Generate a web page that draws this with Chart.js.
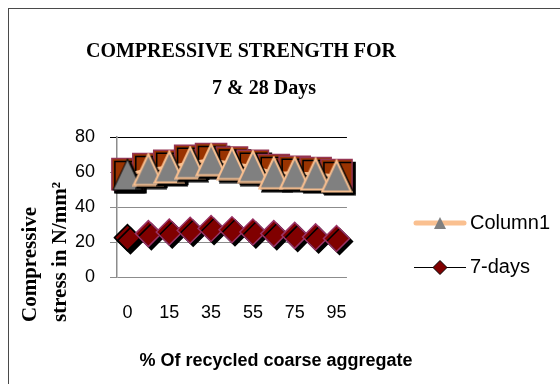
<!DOCTYPE html>
<html>
<head>
<meta charset="utf-8">
<script src="https://cdn.jsdelivr.net/npm/chart.js@4"></script>
<style>
  html, body { margin: 0; padding: 0; background: #fff; }
  #wrap { position: relative; width: 560px; height: 384px; overflow: hidden; }
  #frame { position: absolute; left: 8px; top: 8px; width: 600px; height: 400px;
    border-left: 1.5px solid #4a4a4a; border-top: 1.5px solid #4a4a4a; }
  #chart { position: absolute; left: 0; top: 0; }
</style>
</head>
<body>
<div id="wrap">
  <div id="frame"></div>
  <canvas id="chart" width="560" height="384"></canvas>
</div>
<script>
  // categories (% of recycled coarse aggregate)
  const categories = ['0', '5', '15', '25', '35', '45', '55', '65', '75', '85', '95'];
  // values (N/mm2)
  const column1 = [58.6, 61.4, 62.9, 65.3, 67.0, 64.8, 63.1, 59.5, 59.5, 58.8, 57.7];
  const days28 = [58.8, 61.7, 63.5, 66.4, 67.4, 65.4, 63.5, 61.1, 60.1, 59.4, 58.2];
  const days7 = [22.5, 24.8, 25.7, 26.7, 27.7, 27.0, 25.7, 24.8, 23.8, 22.9, 22.0];
  const yTicks = [0, 20, 40, 60, 80];

  const SERIF = '"Liberation Serif", "Times New Roman", serif';
  const SANS = '"Liberation Sans", Arial, sans-serif';

  function triangleImg (stroke, lw) {
    const c = document.createElement('canvas');
    c.width = 32; c.height = 34;
    const g = c.getContext('2d');
    g.beginPath();
    g.moveTo(16, 1.5);
    g.lineTo(30.5, 32.5);
    g.lineTo(1.5, 32.5);
    g.closePath();
    g.fillStyle = '#808080';
    g.fill();
    g.lineWidth = lw;
    g.strokeStyle = stroke;
    g.stroke();
    return c;
  }
  const triPeach = triangleImg('#fac090', 2);
  const triBlack = triangleImg('#000000', 1);

  function legendIcon (kind) {
    const c = document.createElement('canvas');
    c.width = 54; c.height = 18;
    const g = c.getContext('2d');
    if (kind === 'tri') {
      g.strokeStyle = '#fac090';
      g.lineWidth = 5;
      g.lineCap = 'round';
      g.beginPath(); g.moveTo(3, 9); g.lineTo(51, 9); g.stroke();
      g.fillStyle = '#808080';
      g.beginPath(); g.moveTo(27, 3); g.lineTo(33, 15); g.lineTo(21, 15); g.closePath(); g.fill();
    } else {
      g.strokeStyle = '#000';
      g.lineWidth = 1;
      g.beginPath(); g.moveTo(1, 9.5); g.lineTo(53, 9.5); g.stroke();
      g.fillStyle = '#800000';
      g.beginPath(); g.moveTo(27, 2.5); g.lineTo(34, 9.5); g.lineTo(27, 16.5); g.lineTo(20, 9.5); g.closePath();
      g.fill(); g.stroke();
    }
    return c;
  }
  const legendIcons = { 'Column1': legendIcon('tri'), '7-days': legendIcon('dia') };

  // black drop shadow under every marker, like the original
  const markerShadow = {
    id: 'markerShadow',
    beforeDatasetDraw (chart) {
      const c = chart.ctx;
      c.save();
      c.shadowColor = '#000';
      c.shadowOffsetX = 3;
      c.shadowOffsetY = 3;
      c.shadowBlur = 0;
    },
    afterDatasetDraw (chart) {
      chart.ctx.restore();
    }
  };

  // titles placed as in the source layout
  const texts = {
    id: 'texts',
    afterDraw (chart) {
      const c = chart.ctx;
      c.save();
      c.fillStyle = '#000';
      c.textBaseline = 'middle';
      c.textAlign = 'center';
      c.font = 'bold 20px ' + SERIF;
      c.fillText('COMPRESSIVE STRENGTH FOR', 241, 52);
      c.fillText('7 & 28 Days', 264, 89);
      c.font = 'bold 18px ' + SANS;
      c.fillText('% Of recycled coarse aggregate', 276, 361);
      c.translate(31, 322);
      c.rotate(-Math.PI / 2);
      c.textAlign = 'left';
      c.font = 'bold 21px ' + SERIF;
      c.fillText('Compressive', 0, 0);
      c.fillText('stress in N/mm\u00b2', 0, 30);
      c.restore();
    }
  };

  new Chart(document.getElementById('chart'), {
    type: 'line',
    data: {
      labels: categories,
      datasets: [
        {
          label: 'Column1',
          data: column1,
          order: 1,
          borderColor: '#fac090',
          borderWidth: 3,
          pointStyle: (ctx) => (ctx.dataIndex === 0 ? triBlack : triPeach),
          pointRadius: 16,
          clip: false
        },
        {
          label: '7-days',
          data: days7,
          order: 2,
          borderColor: '#000',
          borderWidth: 1,
          pointStyle: 'rectRot',
          pointRadius: 13,
          pointBackgroundColor: '#800000',
          pointBorderColor: (ctx) => (ctx.dataIndex === 0 ? '#000' : '#993366'),
          pointBorderWidth: 1.5,
          clip: false
        },
        {
          label: '28-days',
          data: days28,
          order: 3,
          borderColor: '#953553',
          borderWidth: 1,
          pointStyle: 'rect',
          pointRadius: 22,
          pointBackgroundColor: '#993300',
          pointBorderColor: '#953553',
          pointBorderWidth: 1.5,
          clip: false
        }
      ]
    },
    options: {
      responsive: false,
      animation: false,
      devicePixelRatio: 1,
      layout: { padding: { left: 0, top: 106, right: 0, bottom: 0 } },
      scales: {
        x: {
          offset: true,
          grid: { display: false, drawTicks: false },
          border: { display: false },
          ticks: {
            autoSkip: false,
            maxRotation: 0,
            padding: 25,
            color: '#000',
            font: { family: SANS, size: 18 },
            callback: (v, i) => (i % 2 === 0 ? categories[i] : '')
          },
          afterFit (s) { s.height = 107; }
        },
        y: {
          min: yTicks[0],
          max: yTicks[yTicks.length - 1],
          afterBuildTicks (s) { s.ticks = yTicks.map(v => ({ value: v })); },
          grid: {
            color: (ctx) => (ctx.tick && ctx.tick.value === 80 ? '#000' : '#8c8c8c'),
            tickLength: 7,
            lineWidth: 1
          },
          border: { color: '#8c8c8c', width: 1.5 },
          ticks: { padding: 15, color: '#000', font: { family: SANS, size: 18 } },
          afterFit (s) { s.width = 117; }
        },
        gap: {
          axis: 'y',
          position: 'right',
          display: true,
          grid: { display: false, drawTicks: false },
          border: { display: false },
          ticks: { display: false },
          afterFit (s) { s.width = 49; }
        }
      },
      plugins: {
        // empty title only reserves the band above the plot
        title: { display: true, text: ' ', font: { size: 10 }, padding: { top: 0, bottom: 19 } },
        tooltip: { enabled: false },
        legend: {
          position: 'right',
          align: 'center',
          maxWidth: 170,
          labels: {
            usePointStyle: true,
            pointStyleWidth: 40,
            padding: 24,
            color: '#000',
            font: { family: SANS, size: 20 },
            filter: (item) => item.text !== '28-days',
            generateLabels (chart) {
              const items = Chart.defaults.plugins.legend.labels.generateLabels(chart);
              items.forEach(it => { it.pointStyle = legendIcons[it.text]; });
              return items;
            }
          }
        }
      }
    },
    plugins: [markerShadow, texts]
  });
</script>
</body>
</html>
